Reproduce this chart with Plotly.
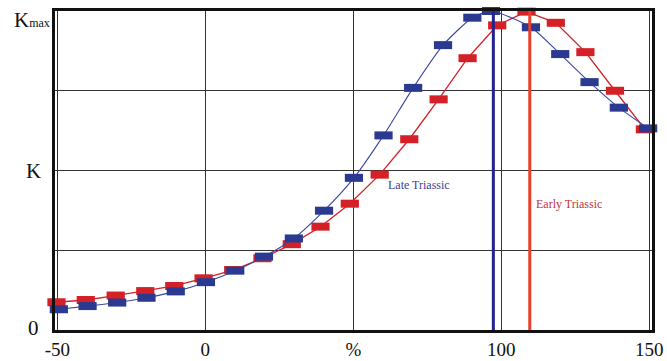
import plotly.graph_objects as go

# ---- data ----
late_x = [-49.5, -39.8, -29.8, -19.9, -10.0, 0.2, 10.1, 19.8, 29.9, 40.1, 50.2,
          60.2, 70.2, 80.3, 90.2, 96.5, 110.0, 119.9, 129.8, 139.7, 149.6]
late_y = [0.065, 0.075, 0.086, 0.101, 0.121, 0.150, 0.186, 0.230, 0.287, 0.374, 0.477,
          0.610, 0.759, 0.893, 0.979, 1.000, 0.949, 0.865, 0.777, 0.697, 0.632]

early_x = [-50.3, -40.4, -30.3, -20.3, -10.5, -0.6, 9.4, 19.3, 29.2, 38.9, 48.8,
           58.9, 68.9, 78.8, 88.6, 98.6, 108.5, 118.4, 128.4, 138.4, 148.5]
early_y = [0.087, 0.094, 0.108, 0.122, 0.138, 0.162, 0.188, 0.225, 0.269, 0.324, 0.396,
           0.487, 0.598, 0.723, 0.852, 0.955, 0.998, 0.963, 0.871, 0.750, 0.629]

late_peak_x = 97.3
early_peak_x = 109.6

x_tick_vals = [-50, 0, 50, 100, 150]
x_tick_text = ["-50", "0", "%", "100", "150"]
y_grid_vals = [0, 0.25, 0.5, 0.75, 1]
y_label_vals = [0, 0.5, 1]
y_label_text = ["0", "K", "K<span style='font-size:12px'>max</span>"]

series_labels = ["Late Triassic", "Early Triassic"]

BLUE = "#2B3990"
BLUE_LINE = "#3A46A0"
RED = "#D42027"
FONT = "Liberation Serif"

fig = go.Figure()

fig.add_trace(go.Scatter(
    x=early_x, y=early_y, mode="lines+markers",
    line=dict(color=RED, width=1.3),
    marker=dict(symbol="line-ew", size=13, line=dict(color=RED, width=8)),
    cliponaxis=False, showlegend=False, name=series_labels[1]))

fig.add_trace(go.Scatter(
    x=late_x, y=late_y, mode="lines+markers",
    line=dict(color=BLUE_LINE, width=1.1, shape="spline", smoothing=0.6),
    marker=dict(symbol="line-ew", size=13, line=dict(color=BLUE, width=8)),
    cliponaxis=False, showlegend=False, name=series_labels[0]))

# peak lines
fig.add_shape(type="line", xref="x", yref="y", x0=late_peak_x, x1=late_peak_x,
              y0=0, y1=1, line=dict(color="#23238E", width=3), layer="above")
fig.add_shape(type="line", xref="x", yref="y", x0=early_peak_x, x1=early_peak_x,
              y0=0, y1=1, line=dict(color="#E8402A", width=3), layer="above")

# series labels
fig.add_annotation(x=61, y=0.455, xref="x", yref="y", text=series_labels[0],
                   showarrow=False, xanchor="left",
                   font=dict(family=FONT, size=12, color="#3A3F94"))
fig.add_annotation(x=111, y=0.395, xref="x", yref="y", text=series_labels[1],
                   showarrow=False, xanchor="left",
                   font=dict(family=FONT, size=12, color="#C0353D"))

# y labels
y_shifts = [2, 0, -9]
y_xshift = [-14, -12, -3]
for v, t, s, r in zip(y_label_vals, y_label_text, y_shifts, y_xshift):
    fig.add_annotation(x=0, y=v, xref="paper", yref="y", text=t, showarrow=False,
                       xanchor="right", yanchor="middle", xshift=r,
                       yshift=s, font=dict(family=FONT, size=21, color="#111"))

fig.update_xaxes(range=[-50.8, 150.9], tickvals=x_tick_vals, ticktext=x_tick_text,
                 showgrid=True, gridcolor="#333", gridwidth=1, zeroline=False,
                 showline=True, linecolor="#111", linewidth=2.5, mirror=True,
                 ticks="", tickfont=dict(family=FONT, size=19, color="#111"))
fig.update_yaxes(range=[0, 1], tickvals=y_grid_vals, showticklabels=False,
                 showgrid=True, gridcolor="#333", gridwidth=1, zeroline=False,
                 showline=True, linecolor="#111", linewidth=2.5, mirror=True, ticks="")

fig.update_layout(width=667, height=361,
                  margin=dict(l=55, r=15, t=11, b=31, autoexpand=False),
                  plot_bgcolor="white", paper_bgcolor="white",
                  font=dict(family=FONT))

fig.write_html("out.html", config={"displayModeBar": False},
               post_script="document.body.style.margin='0px';")
